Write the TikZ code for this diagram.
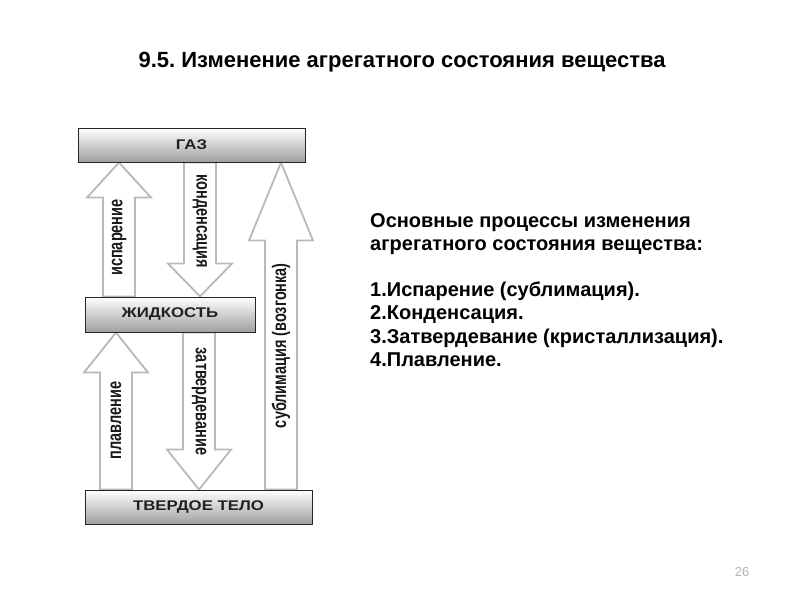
\documentclass[tikz,border=0pt]{standalone}
\usepackage{fontspec}
\setmainfont{Liberation Sans}
\usetikzlibrary{calc,backgrounds}
\frenchspacing

\tikzset{
  phasebar/.style={draw=gray!30!black, line width=1pt, top color=white, bottom color=gray!75,
    minimum height=34pt, inner sep=0pt, text=gray!25!black,
    font=\fontsize{14}{16}\selectfont\bfseries},
  blockarrow/.style={draw=gray!55, line width=1.8pt, fill=white, line join=miter},
  arrowlabel/.style={inner sep=0pt, text=gray!20!black,
    font=\fontsize{14.5}{16}\selectfont\bfseries},
}

% #1 name, #2 tail, #3 tip, #4 head length, #5 rotation, #6 text
\newcommand{\bigarrow}[6]{%
  \draw[blockarrow] let \p1=(#2), \p2=(#3), \n1={sign(\y2-\y1)*#4} in
    ({\x1-16pt},\y1) -- ({\x1-16pt},{\y2-\n1}) -- ({\x1-32pt},{\y2-\n1}) -- (\x2,\y2)
    -- ({\x1+32pt},{\y2-\n1}) -- ({\x1+16pt},{\y2-\n1}) -- ({\x1+16pt},\y1) -- cycle;
  \path (#2) -- (#3) node[pos=0.44, rotate=#5, arrowlabel] (#1) {\scalebox{1}[1.35]{#6}};
}

\begin{document}
\begin{tikzpicture}[x=1pt, y=-1pt]
  \useasboundingbox (0,0) rectangle (800,600);

  \node[font=\fontsize{22}{24}\selectfont\bfseries] (title) at (402,62)
    {9.5. Изменение агрегатного состояния вещества};

  % the three states
  \node[phasebar, minimum width=227pt] (gas) at (191.5,145) {\scalebox{1.2}[1]{ГАЗ}};
  \node[phasebar, minimum width=170pt, minimum height=35pt] (liquid) at (170,314.5) {\scalebox{1.2}[1]{ЖИДКОСТЬ}};
  \node[phasebar, minimum width=227pt] (solid) at (198.5,507) {\scalebox{1.2}[1]{ТВЕРДОЕ ТЕЛО}};

  \coordinate (xisp) at (119,0);
  \coordinate (xkond) at (200,0);
  \coordinate (xsubl) at (281,0);
  \coordinate (xplav) at (116,0);
  \coordinate (xzatv) at (199,0);

  \begin{scope}[on background layer]
    \bigarrow{isp}{liquid.north -| xisp}{gas.south -| xisp}{35}{90}{испарение}
    \bigarrow{kond}{gas.south -| xkond}{liquid.north -| xkond}{33}{-90}{конденсация}
    \bigarrow{subl}{solid.north -| xsubl}{gas.south -| xsubl}{78}{90}{сублимация (возгонка)}
    \bigarrow{plav}{solid.north -| xplav}{liquid.south -| xplav}{40}{90}{плавление}
    \bigarrow{zatv}{liquid.south -| xzatv}{solid.north -| xzatv}{40}{-90}{затвердевание}
  \end{scope}

  \node[anchor=base west, align=left, inner sep=0pt,
    font=\fontsize{20}{23.5}\selectfont\bfseries] (list) at (370,366.5)
    {Основные процессы изменения\\
     агрегатного состояния вещества:\\[22pt]
     1.Испарение (сублимация).\\
     2.Конденсация.\\
     3.Затвердевание (кристаллизация).\\
     4.Плавление.};

  \node[text=gray!60, font=\fontsize{13}{15}\selectfont] (page) at (742,572) {26};
\end{tikzpicture}
\end{document}
